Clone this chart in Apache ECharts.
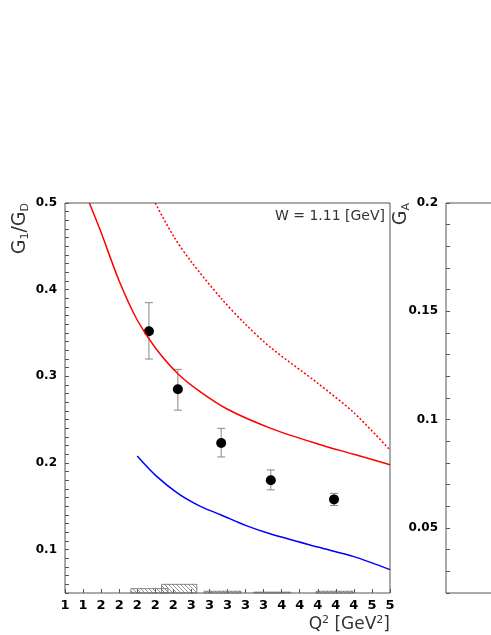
<!DOCTYPE html>
<html><head><meta charset="utf-8">
<script src="https://cdn.jsdelivr.net/npm/echarts@6/dist/echarts.min.js"></script>
<style>html,body{margin:0;background:#fff}#c{width:491px;height:635px}</style>
</head><body><div id="c"></div>
<script>
// data points
const q2 = [2.13, 2.45, 2.93, 3.48, 4.18];
const ratio = [0.352, 0.285, 0.223, 0.180, 0.158];
const errLo = [0.320, 0.261, 0.207, 0.169, 0.151];
const errHi = [0.385, 0.308, 0.240, 0.192, 0.165];
// model curves
const redSolid = [[1.47,0.5],[1.6,0.466],[1.8,0.41],[2.0,0.365],[2.2,0.333],[2.45,0.303],[2.7,0.282],[3.0,0.262],[3.48,0.240],[4.0,0.222],[4.4,0.210],[4.8,0.198]];
const redDot = [[2.2,0.5],[2.4,0.462],[2.6,0.432],[2.93,0.39],[3.2,0.360],[3.48,0.333],[4.0,0.292],[4.4,0.258],[4.8,0.215]];
const blue = [[2.0,0.208],[2.2,0.186],[2.45,0.165],[2.7,0.150],[2.93,0.140],[3.2,0.128],[3.48,0.118],[4.0,0.103],[4.4,0.092],[4.8,0.077]];
// systematic error boxes [x0, x1, height]
const sysBox = [[1.93,2.34,0.005],[2.27,2.66,0.010],[2.74,3.15,0.002],[3.29,3.70,0.001],[3.98,4.39,0.002]];

const near = (v, s) => Math.abs(v / s - Math.round(v / s)) < 1e-6;
const chart = echarts.init(document.getElementById('c'));
const font = 'DejaVu Sans';
chart.setOption({
  animation: false,
  textStyle: {fontFamily: font},
  grid: [
    {left: 65, right: 101, top: 203, bottom: 42, show: true, borderColor: '#555', borderWidth: 1},
    {left: 446, right: -200, top: 203, bottom: 42, show: true, borderColor: '#555', borderWidth: 1}
  ],
  xAxis: [
    {gridIndex: 0, type: 'value', min: 1.2, max: 4.8, interval: 0.2,
     axisLine: {show: false}, splitLine: {show: false},
     axisTick: {inside: true, length: 4, lineStyle: {color: '#555'}},
     axisLabel: {color: '#000', fontWeight: 'bold', fontSize: 13, margin: 6,
       formatter: v => (near(v - 2, 1e9) || Math.abs(v - 2) < 1e-6 || Math.abs(v - 4) < 1e-6) ? Math.round(v) : ''},
     name: '{a|Q}{s|2}{a| [GeV}{s|2}{a|]}', nameLocation: 'end', nameGap: 0,
     nameTextStyle: {align: 'right', verticalAlign: 'top', padding: [22, 0, 0, 0],
       rich: {a: {fontSize: 17, color: '#333'}, s: {fontSize: 11, color: '#333', verticalAlign: 'top', padding: [0,0,8,0]}}}},
    {gridIndex: 1, type: 'value', min: 0, max: 10, show: false}
  ],
  yAxis: [
    {gridIndex: 0, type: 'value', min: 0.05, max: 0.5, interval: 0.01,
     axisLine: {show: false}, splitLine: {show: false},
     axisTick: {inside: true, length: 4, lineStyle: {color: '#555'}},
     axisLabel: {color: '#000', fontWeight: 'bold', fontSize: 12, margin: 8,
       formatter: v => near(v, 0.1) ? v.toFixed(1) : ''},
     name: '{a|G}{s|1}{a|/G}{s|D}', nameLocation: 'end', nameRotate: 90, nameGap: 0,
     nameTextStyle: {align: 'right', verticalAlign: 'bottom', padding: [0, 0, 34, 0],
       rich: {a: {fontSize: 19, color: '#333'}, s: {fontSize: 11, color: '#333', verticalAlign: 'bottom', padding: [10,0,0,0]}}}},
    {gridIndex: 1, type: 'value', min: 0.02, max: 0.2, interval: 0.01,
     axisLine: {show: false}, splitLine: {show: false},
     axisTick: {inside: true, length: 4, lineStyle: {color: '#555'}},
     axisLabel: {color: '#000', fontWeight: 'bold', fontSize: 12, margin: 8,
       formatter: v => near(v, 0.05) ? String(+v.toFixed(2)) : ''},
     name: '{a|G}{s|A}', nameLocation: 'end', nameRotate: 90, nameGap: 0,
     nameTextStyle: {align: 'right', verticalAlign: 'bottom', padding: [0, 0, 34, 0],
       rich: {a: {fontSize: 19, color: '#333'}, s: {fontSize: 11, color: '#333', padding: [10,0,0,0]}}}}
  ],
  graphic: [{type: 'text', right: 106, top: 209,
    style: {text: 'W = 1.11 [GeV]', font: '14px DejaVu Sans', fill: '#333'}}],
  series: [
    {type: 'line', data: redSolid, smooth: 0.3, symbol: 'none', lineStyle: {color: '#f00', width: 1.5}, clip: true},
    {type: 'line', data: redDot, smooth: 0.3, symbol: 'none', lineStyle: {color: '#f00', width: 1.5, type: [2, 2]}, clip: true},
    {type: 'line', data: blue, smooth: 0.3, symbol: 'none', lineStyle: {color: '#00f', width: 1.5}, clip: true},
    {type: 'custom', data: q2.map((x, i) => [x, errLo[i], errHi[i]]),
     renderItem: (p, api) => {
       const a = api.coord([api.value(0), api.value(1)]);
       const b = api.coord([api.value(0), api.value(2)]);
       const st = {stroke: '#888', lineWidth: 1};
       return {type: 'group', children: [
         {type: 'line', shape: {x1: a[0], y1: a[1], x2: b[0], y2: b[1]}, style: st},
         {type: 'line', shape: {x1: a[0]-4, y1: a[1], x2: a[0]+4, y2: a[1]}, style: st},
         {type: 'line', shape: {x1: b[0]-4, y1: b[1], x2: b[0]+4, y2: b[1]}, style: st}]};
     }},
    {type: 'scatter', data: q2.map((x, i) => [x, ratio[i]]), symbolSize: 10, itemStyle: {color: '#000', opacity: 1}},
    {type: 'custom', data: sysBox,
     renderItem: (p, api) => {
       const a = api.coord([api.value(0), 0.05]);
       const b = api.coord([api.value(1), 0.05 + api.value(2)]);
       return {type: 'rect', shape: {x: a[0], y: b[1], width: b[0]-a[0], height: a[1]-b[1]},
         style: {fill: {image: hatch(), repeat: 'repeat'}, stroke: '#666', lineWidth: 0.8}};
     }}
  ]
});
function hatch() {
  const c = document.createElement('canvas'); c.width = 4; c.height = 4;
  const g = c.getContext('2d'); g.strokeStyle = '#777'; g.lineWidth = 0.8;
  g.beginPath(); g.moveTo(0, 0); g.lineTo(4, 4); g.stroke();
  return c;
}
</script></body></html>
